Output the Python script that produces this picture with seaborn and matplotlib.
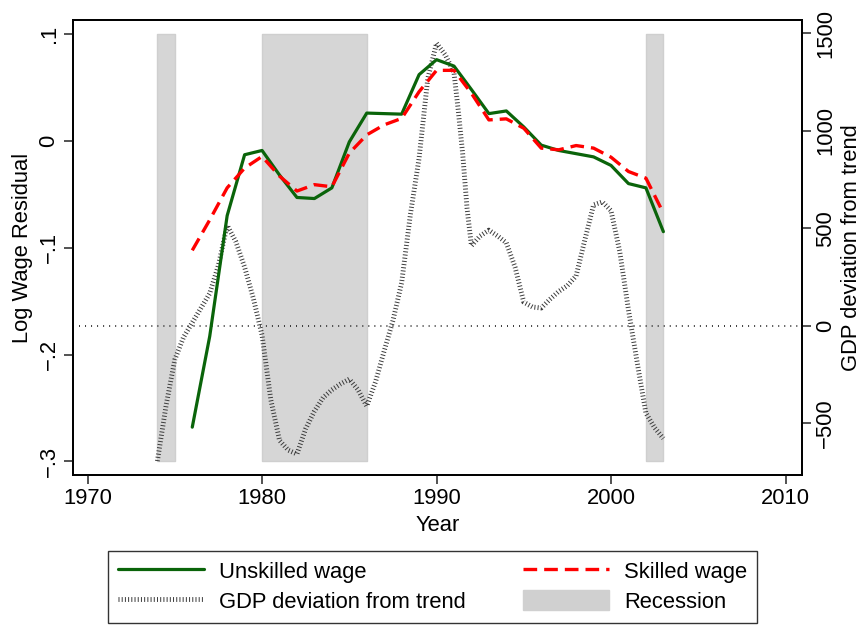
import seaborn as sns
import matplotlib.pyplot as plt
from matplotlib.patches import Patch
from matplotlib.lines import Line2D

# wage residuals, annual
years = list(range(1976, 2004))
unskilled = [-0.268, -0.183, -0.070, -0.013, -0.009, -0.032, -0.053, -0.054, -0.044, -0.001,
             0.026, 0.0255, 0.025, 0.062, 0.076, 0.070, 0.048, 0.0255, 0.028, 0.013,
             -0.004, -0.009, -0.012, -0.015, -0.023, -0.040, -0.044, -0.085]
skilled = [-0.1025, -0.074, -0.044, -0.0255, -0.0146, -0.033, -0.047, -0.041, -0.043, -0.0115,
           0.0056, 0.015, 0.021, 0.046, 0.066, 0.066, 0.0445, 0.0196, 0.0206, 0.0118,
           -0.0068, -0.0084, -0.0044, -0.0068, -0.0153, -0.0287, -0.0349, -0.0676]

# GDP deviation from trend
gdp_t = [1974.0, 1974.5, 1975.0, 1975.5, 1976.0, 1976.5, 1977.0, 1977.5, 1978.0, 1978.5,
         1979.0, 1979.5, 1980.0, 1980.5, 1981.0, 1981.5, 1982.0, 1982.5, 1983.0, 1983.5,
         1984.0, 1984.5, 1985.0, 1985.5, 1986.0, 1986.5, 1987.0, 1987.5, 1988.0, 1988.5,
         1989.0, 1989.5, 1990.0, 1990.5, 1991.0, 1991.25, 1991.5, 1991.75, 1992.0, 1992.5,
         1993.0, 1993.5, 1994.0, 1994.5, 1995.0, 1995.5, 1996.0, 1996.5, 1997.0, 1997.5,
         1998.0, 1998.5, 1999.0, 1999.5, 2000.0, 2000.5, 2001.0, 2001.5, 2002.0, 2002.5, 2003.0]
gdp = [-696, -410, -175, -60, 15, 90, 165, 310, 515, 430,
       300, 140, -50, -380, -590, -640, -660, -530, -440, -370,
       -330, -300, -275, -330, -414, -290, -130, 25, 220, 570,
       860, 1270, 1450, 1390, 1300, 1100, 880, 600, 410, 460,
       490, 460, 425, 300, 120, 95, 90, 135, 175, 205,
       255, 440, 620, 635, 590, 380, 80, -190, -450, -525, -580]

rec_start = [1974, 1980, 2002]
rec_end = [1975, 1986, 2003]
rec_low, rec_high = -0.3, 0.1
zero_line = 0

sns.set_style('ticks')
plt.rcParams['font.family'] = ['Liberation Sans', 'DejaVu Sans']
plt.rcParams['text.color'] = 'black'
plt.rcParams['axes.labelcolor'] = 'black'

fig = plt.figure(figsize=(8.63, 6.26), dpi=100)
ax = fig.add_axes([0.0843, 0.2412, 0.8447, 0.7268])
ax2 = ax.twinx()
ax.set_zorder(ax2.get_zorder() + 1)
ax.patch.set_visible(False)

rec_color = '#d6d6d6'
for s, e in zip(rec_start, rec_end):
    ax2.fill_between([s, e], [rec_low] * 2, [rec_high] * 2, color=rec_color,
                     edgecolor='#cfcfcf', lw=1, zorder=0, transform=ax.transData)

gdp_ls = (0, (0.2, 0.46))
red_ls = (0, (4.1, 2.1))
ax2.axhline(zero_line, color='#333333', lw=1.4, ls=(0, (0.5, 2.6)), zorder=1)
sns.lineplot(x=gdp_t, y=gdp, ax=ax2, color='#3a3a3a', lw=3.5, ls=gdp_ls, zorder=2)

sns.lineplot(x=years, y=unskilled, ax=ax, color='#0a640a', lw=2.3, zorder=3)
sns.lineplot(x=years, y=skilled, ax=ax, color='#ff0000', lw=2.4, ls=red_ls, zorder=4)

ax.set_xlim(1969.15, 2010.93)
ax.set_ylim(-0.3128, 0.1131)
ax2.set_ylim(-767.7, 1569)

ax.set_xticks([1970, 1980, 1990, 2000, 2010])
ax.set_yticks([-0.3, -0.2, -0.1, 0, 0.1])
ax.set_yticklabels(['\u2212.3', '\u2212.2', '\u2212.1', '0', '.1'], rotation=90, va='center')
ax2.set_yticks([-500, 0, 500, 1000, 1500])
ax2.set_yticklabels(['\u2212500', '0', '500', '1000', '1500'], rotation=90, va='center')

fs = 15.8
for a in (ax, ax2):
    a.tick_params(labelsize=fs, length=6.5, width=1.3, color='#444444', labelcolor='black',
                  pad=3)
    for sp in a.spines.values():
        sp.set_color('black')
        sp.set_linewidth(1.3)
ax.set_xlabel('Year', fontsize=fs, labelpad=4.5)
ax.set_ylabel('Log Wage Residual', fontsize=fs, labelpad=4)
ax2.set_ylabel('GDP deviation from trend', fontsize=fs, labelpad=4)

handles = [
    Line2D([], [], color='#0a640a', lw=2.3),
    Line2D([], [], color='#3a3a3a', lw=3.5, ls=gdp_ls),
    Line2D([], [], color='#ff0000', lw=2.4, ls=red_ls),
    Patch(facecolor='#d0d0d0', edgecolor='#d0d0d0'),
]
labels = ['Unskilled wage', 'GDP deviation from trend', 'Skilled wage', 'Recession']
leg = fig.legend(handles, labels, ncol=2, loc='upper center', bbox_to_anchor=(0.5012, 0.1205),
                 fontsize=fs, frameon=True, fancybox=False, edgecolor='black',
                 handlelength=3.9, handleheight=1.05, columnspacing=2.65, borderpad=0.46,
                 labelspacing=0.3, handletextpad=0.68, borderaxespad=0)
leg.get_frame().set_linewidth(1.0)

fig.savefig('out.png', dpi=100)
